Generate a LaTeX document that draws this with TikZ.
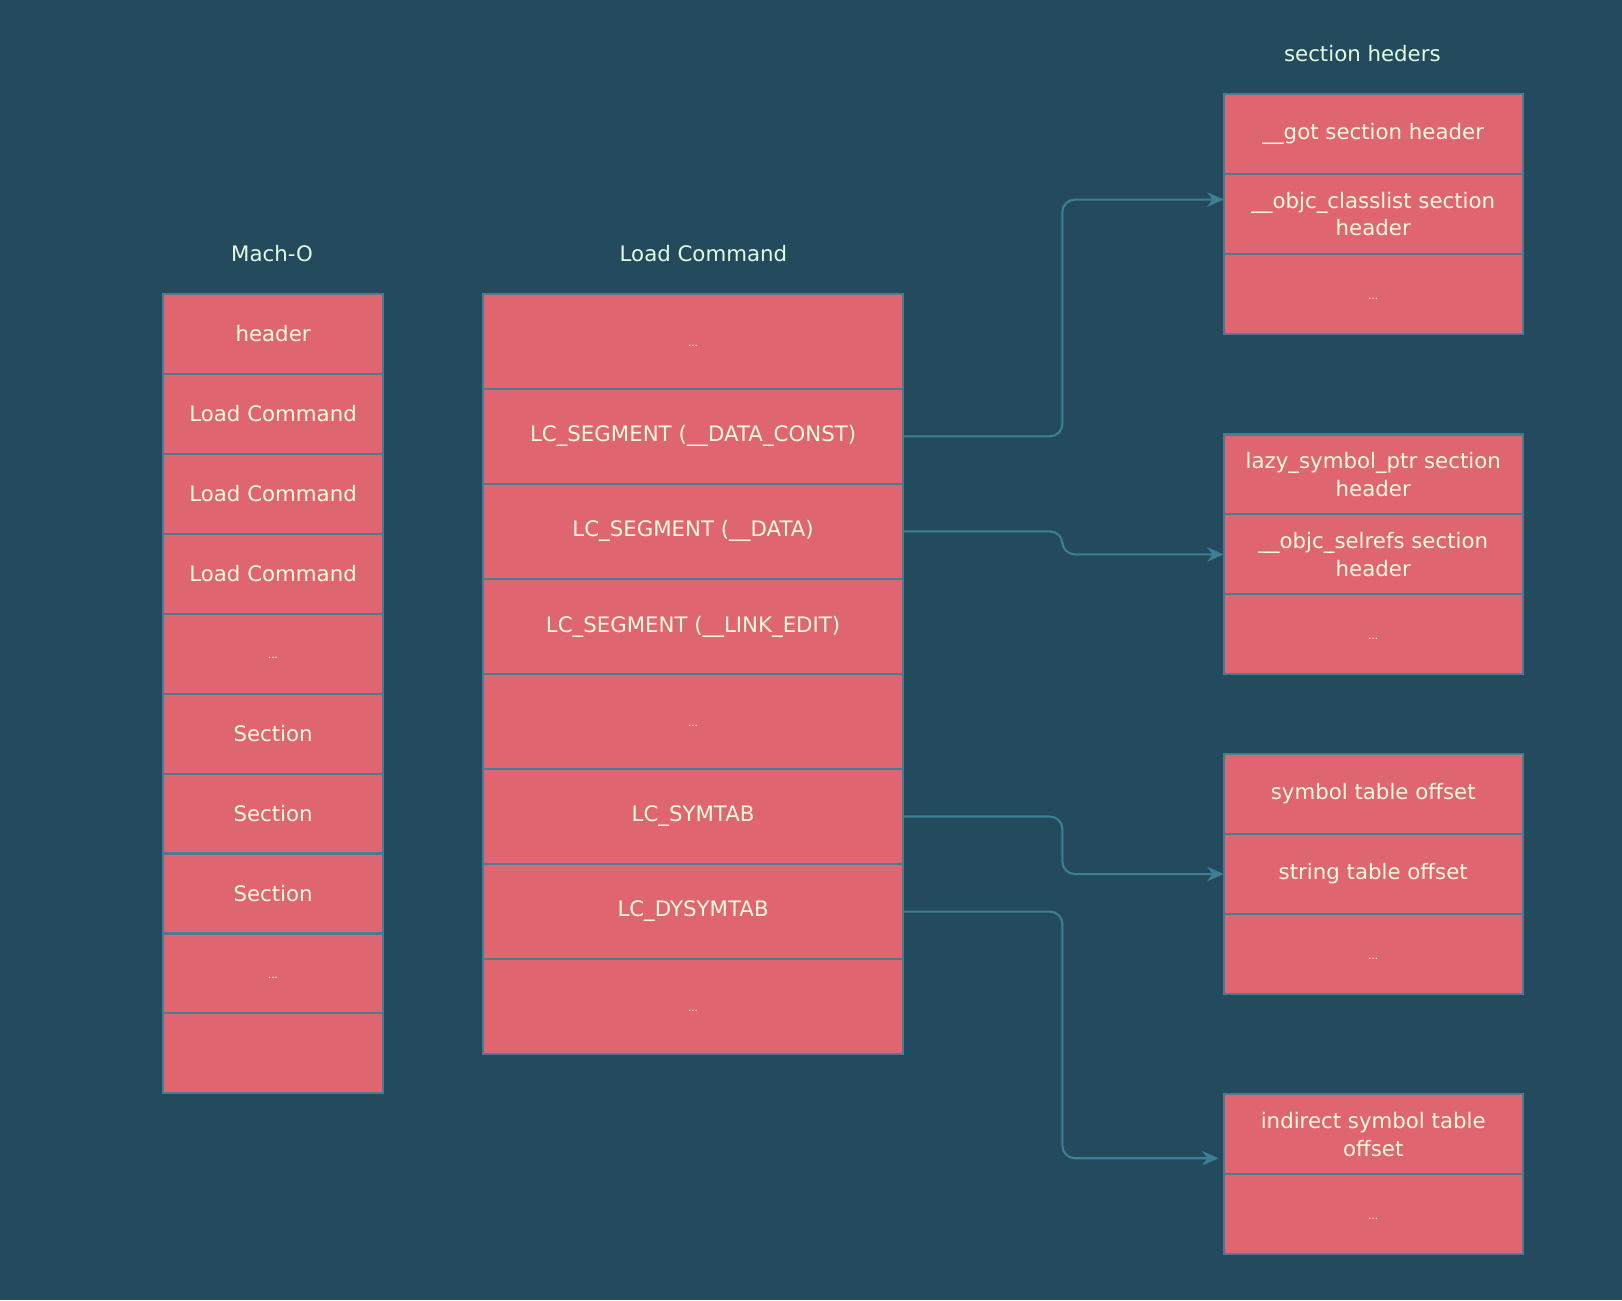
\documentclass[tikz,border=0pt]{standalone}
\usepackage{fontspec}
\setmainfont{DejaVu Sans}
\usetikzlibrary{positioning,arrows.meta}
\definecolor{bgblue}{HTML}{244A5E}
\definecolor{cellred}{HTML}{DF6670}
\definecolor{cellline}{HTML}{467D92}
\definecolor{linkteal}{HTML}{3D8093}
\definecolor{celltext}{HTML}{FEFAE0}
\definecolor{titletext}{HTML}{E4FDE1}

\tikzset{
  cell/.style={draw=cellline, fill=cellred, line width=1pt, text=celltext,
    outer sep=0pt, inner sep=2pt, align=center,
    font=\fontsize{10.3}{13.5}\selectfont},
  machcell/.style={cell, minimum width=106pt, minimum height=38.65pt},
  loadcell/.style={cell, minimum width=203pt, minimum height=45.94pt},
  sectcell/.style={cell, minimum width=144.5pt, minimum height=38.65pt},
  dots/.style={font=\tiny, text height=5pt, text depth=0pt},
  coltitle/.style={text=titletext, font=\fontsize{10.3}{13.5}\selectfont},
  link/.style={draw=linkteal, line width=1pt, rounded corners=6pt,
    -{Stealth[length=8pt,width=7pt]}},
}

\begin{document}
\begin{tikzpicture}[x=0.5pt, y=-0.5pt]
  \fill[bgblue] (0,0) rectangle (1568,1257);

  % Mach-O
  \node[coltitle] (machtitle) at (263,245) {Mach-O};
  \node[machcell] (m1) at (264,322.65) {header};
  \node[machcell, below=0pt of m1] (m2) {Load Command};
  \node[machcell, below=0pt of m2] (m3) {Load Command};
  \node[machcell, below=0pt of m3] (m4) {Load Command};
  \node[machcell, dots, below=0pt of m4] (m5) {...};
  \node[machcell, below=0pt of m5] (m6) {Section};
  \node[machcell, below=0pt of m6] (m7) {Section};
  \node[machcell, below=0pt of m7] (m8) {Section};
  \node[machcell, dots, below=0pt of m8] (m9) {...};
  \node[machcell, below=0pt of m9] (m10) {};

  % load commands
  \node[coltitle] (loadtitle) at (680,245) {Load Command};
  \node[loadcell, dots] (lc1) at (670,329.94) {...};
  \node[loadcell, below=0pt of lc1] (lc2) {LC\_SEGMENT (\_\_DATA\_CONST)};
  \node[loadcell, below=0pt of lc2] (lc3) {LC\_SEGMENT (\_\_DATA)};
  \node[loadcell, below=0pt of lc3] (lc4) {LC\_SEGMENT (\_\_LINK\_EDIT)};
  \node[loadcell, dots, below=0pt of lc4] (lc5) {...};
  \node[loadcell, below=0pt of lc5] (lc6) {LC\_SYMTAB};
  \node[loadcell, below=0pt of lc6] (lc7) {LC\_DYSYMTAB};
  \node[loadcell, dots, below=0pt of lc7] (lc8) {...};

  % section headers
  \node[coltitle] (secttitle) at (1317,52) {section heders};
  \node[sectcell] (s1a) at (1327.5,129.65) {\_\_got section header};
  \node[sectcell, below=0pt of s1a] (s1b) {\_\_objc\_classlist section\\header};
  \node[sectcell, dots, below=0pt of s1b] (s1c) {...};

  \node[sectcell] (s2a) at (1327.5,458.65) {lazy\_symbol\_ptr section\\header};
  \node[sectcell, below=0pt of s2a] (s2b) {\_\_objc\_selrefs section\\header};
  \node[sectcell, dots, below=0pt of s2b] (s2c) {...};

  \node[sectcell] (s3a) at (1327.5,767.65) {symbol table offset};
  \node[sectcell, below=0pt of s3a] (s3b) {string table offset};
  \node[sectcell, dots, below=0pt of s3b] (s3c) {...};

  \node[sectcell] (s4a) at (1327.5,1096.65) {indirect symbol table\\offset};
  \node[sectcell, dots, below=0pt of s4a] (s4b) {...};

  % links
  \coordinate (bus) at (1027,0);
  \draw[link] (lc2.east) -- (lc2.east -| bus) |- ([yshift=7pt]s1b.west);
  \draw[link] (lc3.east) -- (lc3.east -| bus) |- (s2b.west);
  \draw[link] (lc6.east) -- (lc6.east -| bus) |- (s3b.west);
  \draw[link] (lc7.east) -- (lc7.east -| bus) |- ([xshift=-2.5pt,yshift=-11.5pt]s4a.west);
\end{tikzpicture}
\end{document}
